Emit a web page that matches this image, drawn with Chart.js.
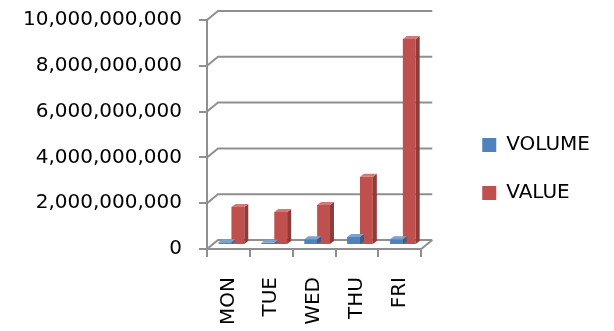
<!DOCTYPE html>
<html><head><meta charset="utf-8">
<script src="https://cdn.jsdelivr.net/npm/chart.js@4.4.0/dist/chart.umd.min.js"></script>
<style>html,body{margin:0;padding:0;background:#fff}#wrap{width:614px;height:331px}</style>
</head><body><div id="wrap"><canvas id="c" width="614" height="331"></canvas></div>
<script>
const categories = ['MON', 'TUE', 'WED', 'THU', 'FRI'];
const volumeValues = [0.12e9, 0.10e9, 0.25e9, 0.35e9, 0.25e9];
const valueValues = [1.66e9, 1.44e9, 1.75e9, 2.98e9, 9.0e9];
const yTicks = [0, 2e9, 4e9, 6e9, 8e9, 10e9];
const seriesNames = ['VOLUME', 'VALUE'];

const frontColors = ['#4F81BD', '#C0504D'];
const sideColors = ['#385E8C', '#8E3B39'];
const topColors = ['#7DA2CE', '#D27A77'];
const GRID = '#8f8f8f';
const DX = 11, DY = 9;      // back wall offset
const BX = 3, BY = 4;       // bar depth position
const SD = 4, SDY = 3;      // bar side depth
const FONT = {family: 'DejaVu Sans', size: 20};

const wall3d = {
  id: 'wall3d',
  beforeDatasetsDraw(chart) {
    const {ctx, chartArea: a, scales: {y}} = chart;
    ctx.save();
    ctx.strokeStyle = GRID; ctx.lineWidth = 2;
    y.ticks.forEach(t => {
      const py = y.getPixelForValue(t.value);
      ctx.beginPath();
      ctx.moveTo(a.left, py);
      ctx.lineTo(a.left + DX, py - DY);
      ctx.lineTo(a.right + DX, py - DY);
      ctx.stroke();
    });
    const p0 = y.getPixelForValue(0);
    ctx.beginPath();
    ctx.moveTo(a.right, p0);
    ctx.lineTo(a.right + DX, p0 - DY);
    ctx.stroke();
    ctx.restore();
  },
  beforeDatasetDraw(chart, args) {
    chart.ctx.save();
    chart.ctx.translate(BX, -BY);
  },
  afterDatasetDraw(chart, args) {
    const ctx = chart.ctx;
    const i = args.index;
    args.meta.data.forEach(b => {
      const p = b.getProps(['x', 'y', 'base', 'width'], true);
      const l = p.x - p.width / 2, r = p.x + p.width / 2;
      ctx.fillStyle = sideColors[i];
      ctx.beginPath();
      ctx.moveTo(r, p.y); ctx.lineTo(r + SD, p.y - SDY);
      ctx.lineTo(r + SD, p.base - SDY); ctx.lineTo(r, p.base);
      ctx.closePath(); ctx.fill();
      ctx.fillStyle = topColors[i];
      ctx.beginPath();
      ctx.moveTo(l, p.y); ctx.lineTo(l + SD, p.y - SDY);
      ctx.lineTo(r + SD, p.y - SDY); ctx.lineTo(r, p.y);
      ctx.closePath(); ctx.fill();
    });
    ctx.restore();
  }
};

new Chart(document.getElementById('c'), {
  type: 'bar',
  data: {
    labels: categories,
    datasets: [
      {label: seriesNames[0], data: volumeValues, backgroundColor: frontColors[0]},
      {label: seriesNames[1], data: valueValues, backgroundColor: frontColors[1]}
    ]
  },
  options: {
    responsive: false,
    animation: false,
    devicePixelRatio: 1,
    layout: {padding: {left: 17, top: 20, right: 14, bottom: 0}},
    datasets: {bar: {categoryPercentage: 0.6, barPercentage: 1.0}},
    scales: {
      x: {
        afterFit: s => { s.height = 82; s.paddingLeft = 0; s.paddingRight = 0; },
        grid: {offset: true, drawOnChartArea: false, drawTicks: true, tickLength: 8, color: GRID, lineWidth: 2},
        border: {display: true, color: GRID, width: 2},
        ticks: {font: FONT, color: '#000', minRotation: 90, maxRotation: 90, padding: 20, autoSkip: false}
      },
      y: {
        min: 0, max: 10e9,
        afterBuildTicks: s => { s.ticks = yTicks.map(v => ({value: v})); },
        afterFit: s => { s.width = 190; s.paddingTop = 0; s.paddingBottom = 0; },
        grid: {drawOnChartArea: false, drawTicks: true, tickLength: 8, color: GRID, lineWidth: 2},
        border: {display: true, color: GRID, width: 2},
        ticks: {font: FONT, color: '#000', padding: 17,
          callback: v => Number(v).toLocaleString('en-US')}
      },
      gap: {
        type: 'linear', position: 'right', display: true,
        afterFit: s => { s.width = 33; s.paddingTop = 0; s.paddingBottom = 0; },
        grid: {display: false}, border: {display: false}, ticks: {display: false}
      }
    },
    plugins: {
      legend: {
        position: 'right',
        align: 'start',
        maxWidth: 200,
        title: {display: true, text: ' ', padding: {top: 63, bottom: 0}, font: FONT},
        labels: {font: FONT, color: '#000', boxWidth: 14, boxHeight: 14, padding: 28}
      },
      tooltip: {enabled: false}
    }
  },
  plugins: [wall3d]
});
</script>
</body></html>
